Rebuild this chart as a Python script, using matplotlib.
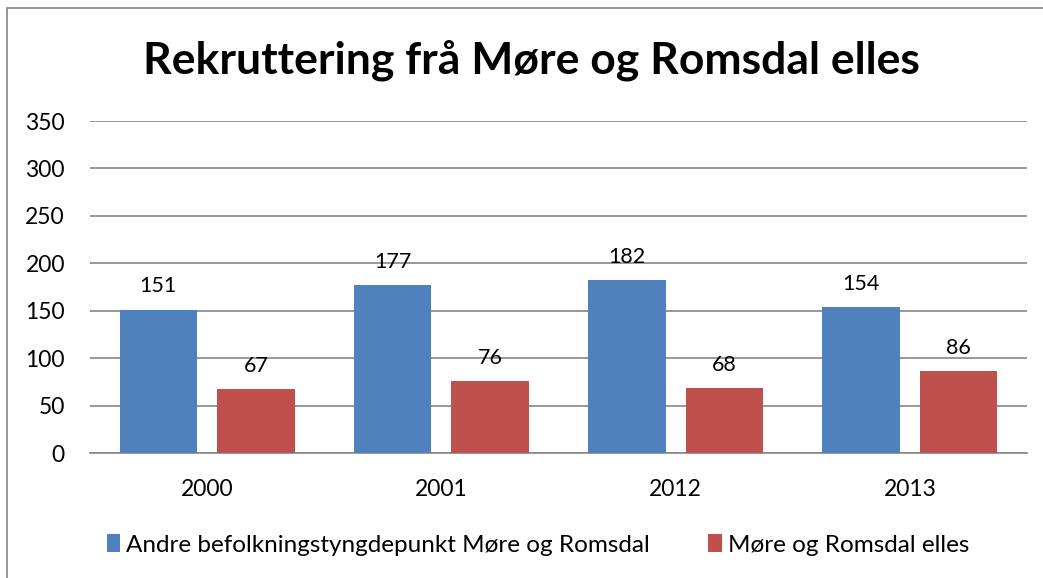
import matplotlib
matplotlib.use("Agg")
import matplotlib.pyplot as plt
import numpy as np
from matplotlib.patches import Rectangle

categories = ["2000", "2001", "2012", "2013"]
series_names = ["Andre befolkningstyngdepunkt Møre og Romsdal", "Møre og Romsdal elles"]
andre = [151, 177, 182, 154]
elles = [67, 76, 68, 86]
yticks = [0, 50, 100, 150, 200, 250, 300, 350]
title = "Rekruttering frå Møre og Romsdal elles"

plt.rcParams['font.family'] = ['Lato', 'DejaVu Sans']

fig = plt.figure(figsize=(10.43, 5.78), dpi=100)
ax = fig.add_axes([90/1043, 1-453/578, 937/1043, (453-121)/578])

x = np.arange(len(categories))
w = 0.33
off = 0.208
colors = ["#4F81BD", "#C0504D"]
b1 = ax.bar(x - off, andre, w, color=colors[0], label=series_names[0], zorder=3)
b2 = ax.bar(x + off, elles, w, color=colors[1], label=series_names[1], zorder=3)
for bars, vals in ((b1, andre), (b2, elles)):
    for r, v in zip(bars, vals):
        ax.text(r.get_x() + r.get_width()/2, v + 14, str(v), ha='center', va='bottom', fontsize=15.5)

ax.set_xlim(-0.5, len(categories) - 0.5)
ax.set_ylim(0, 350)
ax.set_yticks(yticks)
ax.set_yticklabels([str(t) for t in yticks], fontsize=16.5)
ax.set_xticks(x)
ax.set_xticklabels(categories, fontsize=16.5)
ax.grid(axis='y', color='#868686', linewidth=1.2, zorder=0)
for s in ['top', 'right', 'left']:
    ax.spines[s].set_visible(False)
ax.spines['bottom'].set_color('#868686')
ax.spines['bottom'].set_linewidth(1.2)
ax.tick_params(axis='y', length=0, pad=18)
ax.tick_params(axis='x', length=0, pad=19)

fig.text(531/1043, 1-60/578, title, ha='center', va='center', fontsize=32, fontweight='bold')

fig.legend(handles=[b1, b2], labels=series_names, loc='center', bbox_to_anchor=(538/1043, 1-545/578),
           ncol=2, frameon=False, fontsize=17.5, handlelength=0.55, handleheight=0.7,
           handletextpad=0.25, columnspacing=2.4)

fig.patches.append(Rectangle((7/1043, -0.05), 1.1, 1 - 8/578 + 0.05, transform=fig.transFigure,
                             fill=False, edgecolor='#868686', linewidth=1.2, clip_on=False))

fig.savefig("out.png", dpi=100, facecolor='white')
